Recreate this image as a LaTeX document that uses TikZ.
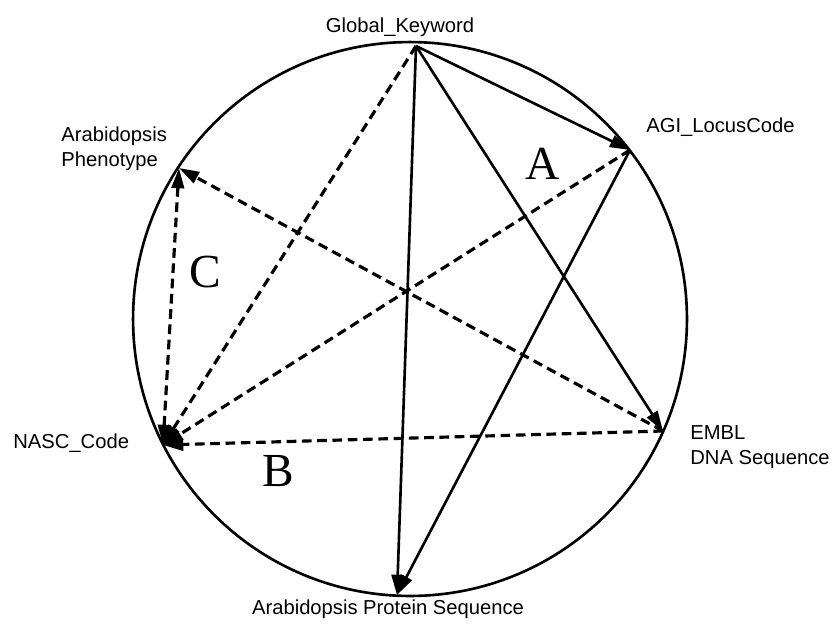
\documentclass[tikz,border=0pt]{standalone}
\usepackage{fontspec}
\setmainfont{Liberation Sans}
\newfontfamily\cycfont{Liberation Serif}
\usepackage{tikz}
\usetikzlibrary{arrows.meta, positioning}

\begin{document}
\begin{tikzpicture}[x=0.02cm, y=-0.02cm,
    ring/.style={draw=black, line width=1.5pt},
    lbl/.style={font=\fontsize{11.5}{14}\selectfont, inner sep=0pt, align=left},
    cyc/.style={font=\cycfont\fontsize{27}{30}\selectfont, inner sep=0pt},
    arrow/.style={draw=black, line width=1.5pt, -{Triangle[length=11.5pt, width=7pt]}},
    dasharrow/.style={arrow, line width=1.8pt, dash pattern=on 5.5pt off 3.2pt},
    bothways/.style={dasharrow, {Triangle[length=11.5pt, width=7pt]}-{Triangle[length=11.5pt, width=7pt]}}]

    \useasboundingbox (0,0) rectangle (837,626);
    \coordinate (ctr) at (410,319);
    \path [ring] (ctr) circle [radius=5.54cm];

    % points on the circle
    \coordinate (gk) at (416,46);
    \coordinate (agi) at (630,150);
    \coordinate (embl) at (663,431);
    \coordinate (prot) at (397,595);
    \coordinate (nasc) at (163,445);
    \coordinate (phen) at (179,168);

    % labels
    \node [lbl, anchor=base] (gkl) at (400,32) {Global\_Keyword};
    \node [lbl, anchor=base west] (agil) at (646,132) {AGI\_LocusCode};
    \node [lbl, anchor=west] (phenl) at (61,149) {Arabidopsis\\Phenotype};
    \node [lbl, anchor=base west] (nascl) at (13,448) {NASC\_Code};
    \node [lbl, anchor=west] (embll) at (690,447) {EMBL\\DNA Sequence};
    \node [lbl, anchor=base] (protl) at (388,614) {Arabidopsis Protein Sequence};

    \node [cyc] (cA) at (543,164) {A};
    \node [cyc] (cB) at (278,471) {B};
    \node [cyc] (cC) at (205,272) {C};

    % solid links
    \path [arrow] (gk) -- (agi);
    \path [arrow] (gk) -- (embl);
    \path [arrow] (gk) -- (prot);
    \path [arrow] (agi) -- (prot);

    % dashed links
    \path [dasharrow] (gk) -- (nasc);
    \path [dasharrow] (agi) -- (nasc);
    \path [dasharrow] (embl) -- (nasc);
    \path [dasharrow] (embl) -- (phen);
    \path [bothways] (nasc) -- (phen);
\end{tikzpicture}
\end{document}
